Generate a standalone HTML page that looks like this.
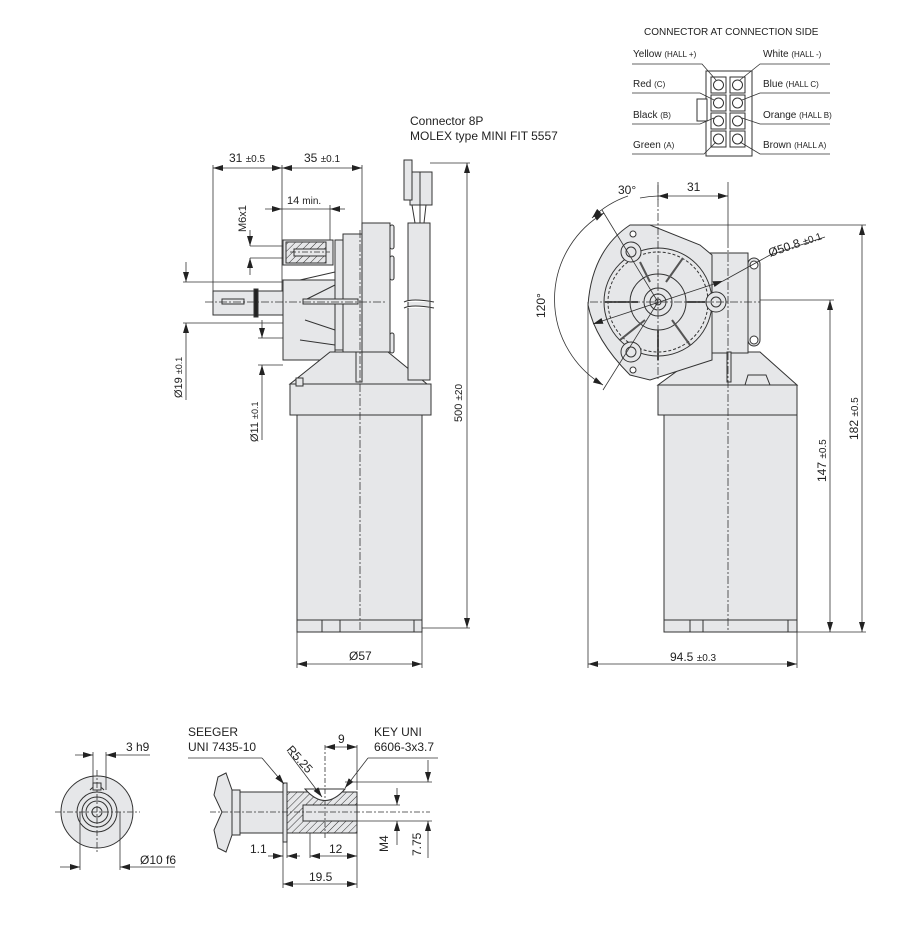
<!DOCTYPE html>
<html><head><meta charset="utf-8"><style>
body{margin:0;background:#fff}
svg{display:block}
text{font-family:"Liberation Sans",sans-serif;fill:#222}
</style></head><body>
<svg width="903" height="928" viewBox="0 0 903 928" xmlns="http://www.w3.org/2000/svg">
<defs>
<marker id="a" viewBox="0 0 10 6" refX="10" refY="3" markerWidth="10" markerHeight="6" orient="auto-start-reverse" markerUnits="userSpaceOnUse"><path d="M0,0L10,3L0,6z" fill="#222"/></marker>
<pattern id="h" width="5" height="5" patternUnits="userSpaceOnUse" patternTransform="rotate(45)"><rect width="5" height="5" fill="#e6e7e9"/><line x1="0" y1="0" x2="0" y2="5" stroke="#333" stroke-width="1"/></pattern>
</defs>
<g stroke="#333" stroke-width="1" fill="#e6e7e9">
<rect x="362" y="223" width="28" height="129"/>
<rect x="390" y="225" width="4" height="24" rx="2"/><rect x="390" y="256" width="4" height="24" rx="2"/><rect x="390" y="333" width="4" height="20" rx="2"/>
<rect x="343" y="234" width="19" height="118"/>
<rect x="335" y="240" width="8" height="110"/>
<rect x="283" y="280" width="52" height="80"/>
<rect x="283" y="240" width="50" height="25"/>
<rect x="286" y="242" width="40" height="21" fill="url(#h)"/>
<rect x="294" y="249" width="32" height="7" fill="#e6e7e9"/>
<path d="M335 272L300 280M335 285L305 300M335 330L305 320M335 345L300 340" fill="none"/>
<rect x="213" y="291" width="70" height="24"/>
<rect x="254" y="289" width="4" height="28" fill="#222"/>
<rect x="222" y="299" width="22" height="5"/>
<rect x="303" y="299" width="55" height="5"/>
<path d="M330 352L388 352L427 384L290 384Z"/>
<rect x="290" y="384" width="141" height="31"/>
<rect x="297" y="415" width="125" height="217"/>
<line x1="297" y1="620" x2="422" y2="620"/>
<line x1="322" y1="620" x2="322" y2="632"/><line x1="340" y1="620" x2="340" y2="632"/><line x1="414" y1="620" x2="414" y2="632"/>
<rect x="296" y="378" width="7" height="8"/>
<rect x="356" y="352" width="6" height="30"/>
<rect x="408" y="223" width="22" height="157"/>
<path d="M404 302q8 -4 30 0M404 308q8 -4 30 0" fill="#fff"/>
<path d="M412 205L415 223M420 205L420 223M426 205L424 223" fill="none"/>
<rect x="410" y="172" width="22" height="33"/>
<rect x="404" y="160" width="8" height="40"/>
<line x1="420" y1="172" x2="420" y2="205"/>
</g>
<g stroke="#333" stroke-width="0.8" fill="none">
<line x1="360" y1="230" x2="360" y2="632" stroke-dasharray="8,2,2,2"/>
<line x1="205" y1="302" x2="385" y2="302" stroke-dasharray="8,2,2,2"/>
<line x1="290" y1="252" x2="330" y2="252" stroke-dasharray="6,2,2,2"/>
<line x1="213" y1="165" x2="213" y2="291"/><line x1="282" y1="165" x2="282" y2="291"/><line x1="362" y1="165" x2="362" y2="232"/>
<line x1="213" y1="168" x2="282" y2="168" marker-start="url(#a)" marker-end="url(#a)"/>
<line x1="282" y1="168" x2="362" y2="168" marker-start="url(#a)" marker-end="url(#a)"/>
<line x1="330" y1="205" x2="330" y2="240"/>
<line x1="265" y1="209" x2="282" y2="209" marker-end="url(#a)"/><line x1="330" y1="209" x2="345" y2="209" marker-start="url(#a)"/>
<line x1="282" y1="209" x2="330" y2="209"/>
<line x1="250" y1="246" x2="283" y2="246"/><line x1="250" y1="258" x2="283" y2="258"/>
<line x1="250" y1="230" x2="250" y2="246" marker-end="url(#a)"/><line x1="250" y1="258" x2="250" y2="275" marker-start="url(#a)"/>
<line x1="183" y1="282" x2="283" y2="282"/><line x1="183" y1="323" x2="283" y2="323"/>
<line x1="186" y1="262" x2="186" y2="282" marker-end="url(#a)"/><line x1="186" y1="323" x2="186" y2="400" marker-start="url(#a)"/>
<line x1="258" y1="338" x2="283" y2="338"/><line x1="258" y1="365" x2="283" y2="365"/>
<line x1="262" y1="320" x2="262" y2="338" marker-end="url(#a)"/><line x1="262" y1="365" x2="262" y2="440" marker-start="url(#a)"/>
<line x1="430" y1="163" x2="470" y2="163"/><line x1="422" y1="628" x2="470" y2="628"/>
<line x1="467" y1="163" x2="467" y2="628" marker-start="url(#a)" marker-end="url(#a)"/>
<line x1="297" y1="632" x2="297" y2="668"/><line x1="422" y1="632" x2="422" y2="668"/>
<line x1="297" y1="664" x2="422" y2="664" marker-start="url(#a)" marker-end="url(#a)"/>
</g>
<g font-size="11">
<text x="229" y="162" font-size="12">31 <tspan font-size="10">±0.5</tspan></text>
<text x="304" y="162" font-size="12">35 <tspan font-size="10">±0.1</tspan></text>
<text x="287" y="204">14 <tspan font-size="10">min.</tspan></text>
<text transform="translate(246,232) rotate(-90)">M6x1</text>
<text transform="translate(182,398) rotate(-90)">Ø19 <tspan font-size="9">±0.1</tspan></text>
<text transform="translate(258,442) rotate(-90)">Ø11 <tspan font-size="9">±0.1</tspan></text>
<text transform="translate(462,422) rotate(-90)">500 <tspan font-size="10">±20</tspan></text>
<text x="349" y="660" font-size="12">Ø57</text>
<text x="410" y="125" font-size="12">Connector 8P</text>
<text x="410" y="140" font-size="12">MOLEX type MINI FIT 5557</text>
</g>

<g stroke="#333" stroke-width="1" fill="#e6e7e9">
<path d="M703 352L760 352L797 385L658 385Z"/>
<rect x="658" y="385" width="139" height="30"/>
<rect x="664" y="415" width="133" height="217"/>
<line x1="664" y1="620" x2="797" y2="620"/>
<line x1="690" y1="620" x2="690" y2="632"/><line x1="703" y1="620" x2="703" y2="632"/><line x1="788" y1="620" x2="788" y2="632"/>
<path d="M748 375L766 375L770 385L745 385Z"/>
<rect x="708" y="253" width="40" height="100"/>
<rect x="748" y="258" width="12" height="88" rx="6"/>
<circle cx="754" cy="265" r="4" fill="#fff"/><circle cx="754" cy="340" r="4" fill="#fff"/>
<path d="M630 225L650 225L700 245L712 255L712 360L650 380L630 375Q595 340 588 305Q592 250 630 225Z"/>
<circle cx="658" cy="302" r="54" fill="none"/>
<circle cx="658" cy="302" r="50" fill="none" stroke-dasharray="3,2"/>
<circle cx="658" cy="302" r="28"/>
<circle cx="658" cy="302" r="14"/>
<circle cx="658" cy="302" r="8"/>
<circle cx="658" cy="302" r="3"/>
<circle cx="631" cy="252" r="10"/><circle cx="631" cy="252" r="5"/>
<circle cx="631" cy="352" r="10"/><circle cx="631" cy="352" r="5"/>
<circle cx="716" cy="302" r="10"/><circle cx="716" cy="302" r="5"/>
<circle cx="633" cy="234" r="3" fill="#fff"/><circle cx="633" cy="370" r="3" fill="#fff"/>
<g fill="none" stroke-width="2" stroke="#555">
<line x1="666" y1="282" x2="683" y2="258"/><line x1="650" y1="282" x2="640" y2="262"/><line x1="638" y1="302" x2="605" y2="302"/>
<line x1="645" y1="320" x2="620" y2="340"/><line x1="658" y1="330" x2="658" y2="360"/><line x1="672" y1="320" x2="690" y2="345"/><line x1="686" y1="302" x2="705" y2="302"/>
</g>
<rect x="727" y="352" width="4" height="30"/>
</g>
<g stroke="#333" stroke-width="0.8" fill="none">
<line x1="728" y1="240" x2="728" y2="632" stroke-dasharray="8,2,2,2"/>
<line x1="658" y1="185" x2="658" y2="380" stroke-dasharray="8,2,2,2"/>
<line x1="590" y1="302" x2="760" y2="302" stroke-dasharray="8,2,2,2"/>
<path d="M628 196A98 98 0 0 0 592 218" marker-end="url(#a)"/>
<path d="M640 198A105 105 0 0 1 658 196"/>
<path d="M604 213A100 100 0 0 0 603 385" marker-start="url(#a)" marker-end="url(#a)"/>
<line x1="658" y1="302" x2="602" y2="210"/><line x1="658" y1="302" x2="603" y2="390"/>
<line x1="658" y1="182" x2="658" y2="200"/><line x1="728" y1="182" x2="728" y2="240"/>
<line x1="658" y1="196" x2="728" y2="196" marker-start="url(#a)" marker-end="url(#a)"/>
<line x1="593" y1="324" x2="723" y2="281" marker-start="url(#a)" marker-end="url(#a)"/>
<line x1="723" y1="281" x2="770" y2="255"/><line x1="770" y1="255" x2="825" y2="237"/>
<line x1="640" y1="225" x2="866" y2="225"/><line x1="797" y1="632" x2="866" y2="632"/>
<line x1="862" y1="225" x2="862" y2="632" marker-start="url(#a)" marker-end="url(#a)"/>
<line x1="760" y1="300" x2="834" y2="300"/>
<line x1="830" y1="300" x2="830" y2="632" marker-start="url(#a)" marker-end="url(#a)"/>
<line x1="588" y1="302" x2="588" y2="668"/><line x1="797" y1="632" x2="797" y2="668"/>
<line x1="588" y1="664" x2="797" y2="664" marker-start="url(#a)" marker-end="url(#a)"/>
</g>
<g font-size="12">
<text x="618" y="194">30°</text>
<text x="687" y="191">31</text>
<text transform="translate(770,257) rotate(-19)">Ø50.8 <tspan font-size="10">±0.1</tspan></text>
<text transform="translate(545,318) rotate(-90)">120°</text>
<text transform="translate(826,482) rotate(-90)">147 <tspan font-size="10">±0.5</tspan></text>
<text transform="translate(858,440) rotate(-90)">182 <tspan font-size="10">±0.5</tspan></text>
<text x="670" y="661">94.5 <tspan font-size="10">±0.3</tspan></text>
</g>

<text x="644" y="35" font-size="10">CONNECTOR AT CONNECTION SIDE</text>
<g stroke="#333" stroke-width="1" fill="#fff">
<rect x="706" y="71" width="46" height="85"/>
<rect x="697" y="99" width="10" height="22"/>
<rect x="711" y="77" width="15" height="16"/><rect x="730" y="77" width="15" height="16"/>
<rect x="711" y="95" width="15" height="16"/><rect x="730" y="95" width="15" height="16"/>
<rect x="711" y="113" width="15" height="16"/><rect x="730" y="113" width="15" height="16"/>
<rect x="711" y="131" width="15" height="16"/><rect x="730" y="131" width="15" height="16"/>
<g fill="none">
<circle cx="718.5" cy="85" r="5"/><circle cx="737.5" cy="85" r="5"/>
<circle cx="718.5" cy="103" r="5"/><circle cx="737.5" cy="103" r="5"/>
<circle cx="718.5" cy="121" r="5"/><circle cx="737.5" cy="121" r="5"/>
<circle cx="718.5" cy="139" r="5"/><circle cx="737.5" cy="139" r="5"/>
</g>
<g fill="none" stroke-width="0.8">
<path d="M632 64L702 64L716 80"/><path d="M632 93L700 93L714 100"/><path d="M632 124L700 124L714 118"/><path d="M632 154L704 154L716 142"/>
<path d="M830 64L760 64L740 80"/><path d="M830 93L760 93L742 100"/><path d="M830 124L760 124L742 118"/><path d="M830 154L760 154L740 142"/>
</g>
</g>
<g font-size="10">
<text x="633" y="57">Yellow <tspan font-size="8">(HALL +)</tspan></text>
<text x="633" y="87">Red <tspan font-size="8">(C)</tspan></text>
<text x="633" y="118">Black <tspan font-size="8">(B)</tspan></text>
<text x="633" y="148">Green <tspan font-size="8">(A)</tspan></text>
<text x="763" y="57">White <tspan font-size="8">(HALL -)</tspan></text>
<text x="763" y="87">Blue <tspan font-size="8">(HALL C)</tspan></text>
<text x="763" y="118">Orange <tspan font-size="8">(HALL B)</tspan></text>
<text x="763" y="148">Brown <tspan font-size="8">(HALL A)</tspan></text>
</g>

<g stroke="#333" stroke-width="1" fill="#e6e7e9">
<circle cx="97" cy="812" r="36"/>
<circle cx="97" cy="812" r="20" fill="none"/>
<circle cx="97" cy="812" r="15" fill="none"/>
<circle cx="97" cy="812" r="11" fill="none"/>
<circle cx="97" cy="812" r="5" fill="none"/>
<path d="M90 790q7 -8 14 0" fill="none"/>
<rect x="93" y="783" width="8" height="7"/>
</g>
<g stroke="#333" stroke-width="0.8" fill="none">
<line x1="55" y1="812" x2="140" y2="812" stroke-dasharray="6,2,2,2"/>
<line x1="97" y1="770" x2="97" y2="854" stroke-dasharray="6,2,2,2"/>
<line x1="93" y1="752" x2="93" y2="790"/><line x1="106" y1="752" x2="106" y2="790"/>
<line x1="75" y1="755" x2="93" y2="755" marker-end="url(#a)"/><line x1="106" y1="755" x2="150" y2="755" marker-start="url(#a)"/>
<line x1="80" y1="812" x2="80" y2="870"/><line x1="120" y1="812" x2="120" y2="870"/>
<line x1="60" y1="867" x2="80" y2="867" marker-end="url(#a)"/><line x1="120" y1="867" x2="175" y2="867" marker-start="url(#a)"/>
</g>
<text x="126" y="751" font-size="12">3 h9</text>
<text x="140" y="864" font-size="12">Ø10 f6</text>

<g stroke="#333" stroke-width="1" fill="#e6e7e9">
<path d="M218 777L226 773L232 790L232 835L226 852L218 848L214 830L222 812L214 795Z"/>
<rect x="232" y="790" width="8" height="45"/>
<rect x="240" y="792" width="43" height="41"/>
<rect x="283" y="783" width="4" height="59"/>
<rect x="287" y="792" width="70" height="41" fill="url(#h)"/>
<rect x="303" y="805" width="54" height="16" fill="#e6e7e9"/>
<path d="M305 789Q325 812 345 789Z" fill="#fff"/>
</g>
<g stroke="#333" stroke-width="0.8" fill="none">
<line x1="210" y1="812" x2="430" y2="812" stroke-dasharray="6,2,2,2"/>
<line x1="325" y1="745" x2="325" y2="840" stroke-dasharray="5,2,2,2"/>
<line x1="188" y1="758" x2="262" y2="758"/><line x1="262" y1="758" x2="284" y2="784" marker-end="url(#a)"/>
<line x1="288" y1="752" x2="322" y2="797" marker-end="url(#a)"/>
<line x1="438" y1="758" x2="368" y2="758"/><line x1="368" y1="758" x2="345" y2="788" marker-end="url(#a)"/>
<line x1="357" y1="745" x2="357" y2="790"/>
<line x1="325" y1="747" x2="357" y2="747" marker-start="url(#a)" marker-end="url(#a)"/>
<line x1="345" y1="782" x2="432" y2="782"/><line x1="357" y1="805" x2="400" y2="805"/><line x1="357" y1="821" x2="432" y2="821"/>
<line x1="397" y1="788" x2="397" y2="805" marker-end="url(#a)"/><line x1="397" y1="821" x2="397" y2="845" marker-start="url(#a)"/>
<line x1="428" y1="760" x2="428" y2="782" marker-end="url(#a)"/><line x1="428" y1="821" x2="428" y2="858" marker-start="url(#a)"/>
<line x1="283" y1="842" x2="283" y2="888"/><line x1="287" y1="842" x2="287" y2="858"/>
<line x1="310" y1="833" x2="310" y2="858"/><line x1="357" y1="833" x2="357" y2="888"/>
<line x1="268" y1="856" x2="283" y2="856" marker-end="url(#a)"/><line x1="287" y1="856" x2="300" y2="856" marker-start="url(#a)"/>
<line x1="310" y1="856" x2="357" y2="856" marker-start="url(#a)" marker-end="url(#a)"/>
<line x1="283" y1="884" x2="357" y2="884" marker-start="url(#a)" marker-end="url(#a)"/>
</g>
<g font-size="12">
<text x="188" y="736">SEEGER</text>
<text x="188" y="751">UNI 7435-10</text>
<text x="374" y="736">KEY UNI</text>
<text x="374" y="751">6606-3x3.7</text>
<text transform="translate(286,750) rotate(48)">R5.25</text>
<text x="338" y="743">9</text>
<text x="250" y="853">1.1</text>
<text x="329" y="853">12</text>
<text x="309" y="881">19.5</text>
<text transform="translate(388,852) rotate(-90)">M4</text>
<text transform="translate(421,856) rotate(-90)">7.75</text>
</g>
</svg>
</body></html>
